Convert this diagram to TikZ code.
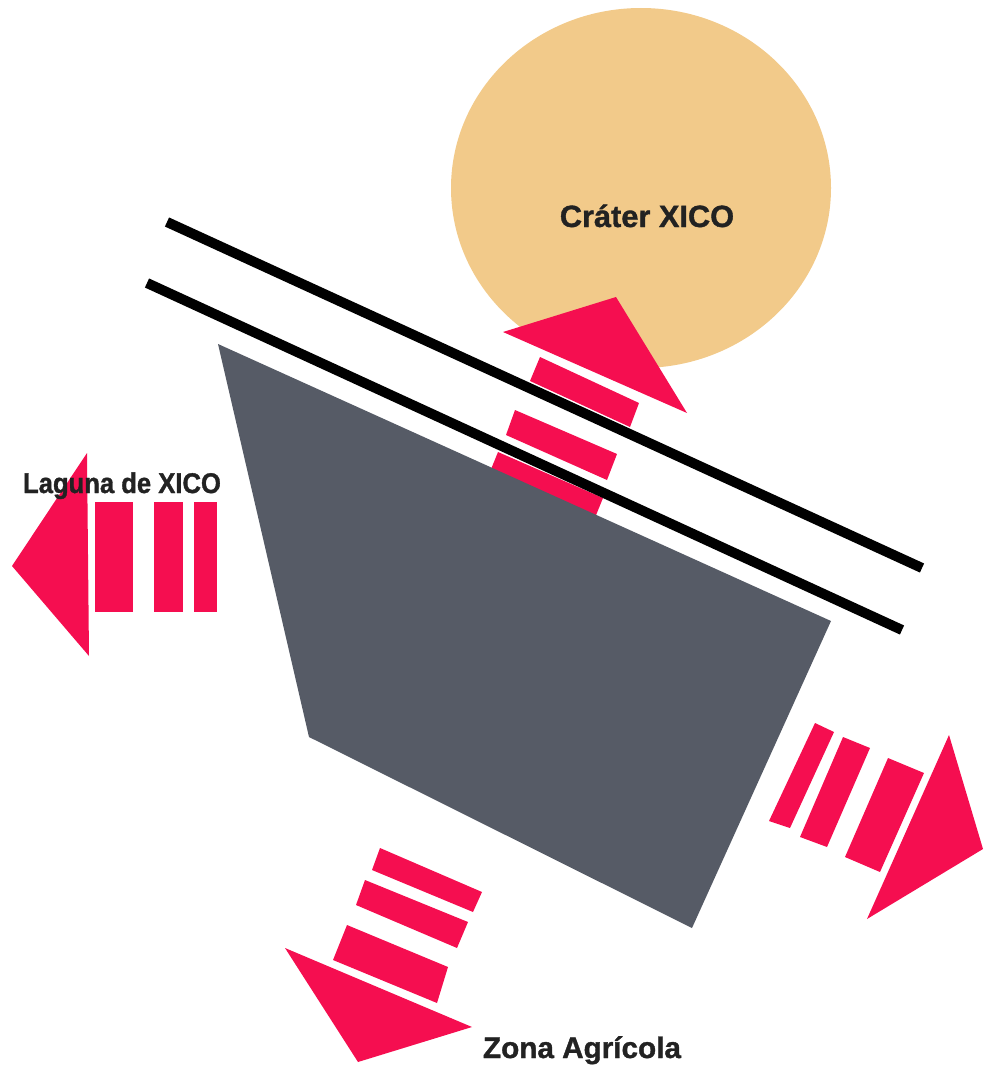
\documentclass[tikz,border=0pt]{standalone}
\usepackage{fontspec}
\setmainfont{Liberation Sans}
\newfontfamily\placefont[FakeBold=1.2]{Liberation Sans}
\newfontfamily\narrowplacefont[FakeBold=1.2,FakeStretch=0.9]{Liberation Sans}
\definecolor{craterfill}{HTML}{F2CA8A}
\definecolor{flowpink}{HTML}{F50E50}
\definecolor{blockgray}{HTML}{565B66}
\definecolor{labeltext}{HTML}{222222}
\tikzset{
  crater/.style={fill=craterfill, draw=none},
  arrowhead/.style={fill=flowpink, draw=none},
  flowbar/.style={fill=flowpink, draw=none},
  block/.style={fill=blockgray, draw=none},
  road/.style={draw=black, line width=10*0.02cm},
  place/.style={text=labeltext, anchor=base, inner sep=0pt}
}

\begin{document}
\begin{tikzpicture}[x=0.02cm, y=-0.02cm]
  \useasboundingbox (0,0) rectangle (989,1078);

  % crater
  \fill[crater] (641,188) ellipse [x radius=190, y radius=180];

  % flow towards the crater
  \fill[arrowhead] (503,332) -- (616,297) -- (687,413) -- cycle;
  \fill[flowbar] (540,357) -- (639,403) -- (630,427) -- (530,381) -- cycle;
  \fill[flowbar] (515,410) -- (617,454) -- (607,480) -- (506,435) -- cycle;
  \fill[flowbar] (498,452) -- (603,498) -- (590,530) -- (485,484) -- cycle;

  % main block
  \fill[block] (218,344) -- (831,621) -- (692,928) -- (309,737) -- cycle;

  % the two lines
  \draw[road] (167,222) -- (922,568);
  \draw[road] (147,283) -- (902,630);

  % flow towards the lagoon
  \fill[arrowhead] (12,566) -- (87,453) -- (89,656) -- cycle;
  \fill[flowbar] (95,502) rectangle (133,612);
  \fill[flowbar] (154,502) rectangle (183,612);
  \fill[flowbar] (194,502) rectangle (217,612);

  % flow to the right
  \fill[arrowhead] (949,735) -- (983,849) -- (867,919) -- cycle;
  \fill[flowbar] (815,723) -- (834,732) -- (790,828) -- (769,821) -- cycle;
  \fill[flowbar] (843,737) -- (870,748) -- (827,847) -- (800,837) -- cycle;
  \fill[flowbar] (888,758) -- (924,773) -- (880,872) -- (845,857) -- cycle;

  % flow towards the fields
  \fill[arrowhead] (285,948) -- (472,1027) -- (358,1062) -- cycle;
  \fill[flowbar] (380,848) -- (482,892) -- (473,912) -- (372,870) -- cycle;
  \fill[flowbar] (365,880) -- (468,922) -- (457,948) -- (356,905) -- cycle;
  \fill[flowbar] (347,925) -- (448,967) -- (437,1003) -- (333,960) -- cycle;

  % labels
  \node[place, font=\placefont\bfseries\fontsize{17.5}{20}\selectfont] (crater) at (647,227) {Cráter XICO};
  \node[place, font=\narrowplacefont\bfseries\fontsize{16.2}{19}\selectfont] (lagoon) at (122,493) {Laguna de XICO};
  \node[place, font=\placefont\bfseries\fontsize{16.9}{19}\selectfont] (fields) at (582,1058) {Zona Agrícola};
\end{tikzpicture}
\end{document}
